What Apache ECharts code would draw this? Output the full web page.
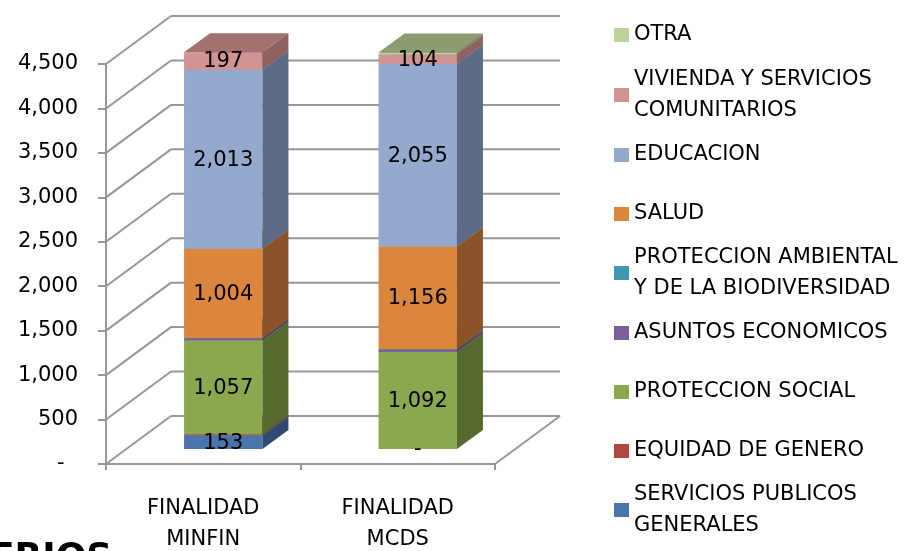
<!DOCTYPE html>
<html>
<head>
<meta charset="utf-8">
<script src="https://cdn.jsdelivr.net/npm/echarts@6/dist/echarts.min.js"></script>
<style>
  html, body { margin: 0; padding: 0; background: #fff; }
  #chart { width: 913px; height: 551px; }
</style>
</head>
<body>
<div id="chart"></div>
<script>
// categorias y valores (millones)
const categories = ['FINALIDAD\nMINFIN', 'FINALIDAD\nMCDS'];
const serviciosPublicos = [153, 0];
const equidadGenero = [10, 0];
const proteccionSocial = [1057, 1092];
const asuntosEconomicos = [25, 25];
const proteccionAmbiental = [5, 5];
const salud = [1004, 1156];
const educacion = [2013, 2055];
const vivienda = [197, 104];
const otra = [0, 25];
const yTicks = [0, 500, 1000, 1500, 2000, 2500, 3000, 3500, 4000, 4500];

const FONT = 'DejaVu Sans';
const FS = 21;
// profundidad de la pared (3D) y de las barras
const WALL_DX = 65, WALL_DY = -48;
const BAR_OX = 20, BAR_OY = -15;
const BAR_DX = 26, BAR_DY = -19;

// orden de apilado, de abajo hacia arriba
const stackDefs = [
  { name: 'SERVICIOS PUBLICOS\nGENERALES', data: serviciosPublicos, front: '#4a74ad', side: '#2f4a72', top: '#3a5c8c', label: true, legendY: 510 },
  { name: 'EQUIDAD DE GENERO', data: equidadGenero, front: '#b0483f', side: '#70302b', top: '#8e3a33', label: false, legendY: 451 },
  { name: 'PROTECCION SOCIAL', data: proteccionSocial, front: '#8ca84e', side: '#566a30', top: '#70883e', label: true, legendY: 392 },
  { name: 'ASUNTOS ECONOMICOS', data: asuntosEconomicos, front: '#7b5f9c', side: '#4e3c64', top: '#634c7e', label: false, legendY: 333 },
  { name: 'PROTECCION AMBIENTAL\nY DE LA BIODIVERSIDAD', data: proteccionAmbiental, front: '#3f98b0', side: '#286172', top: '#337b8e', label: false, legendY: 273 },
  { name: 'SALUD', data: salud, front: '#dc853d', side: '#8c5229', top: '#b36a31', label: true, legendY: 214 },
  { name: 'EDUCACION', data: educacion, front: '#94a9ce', side: '#5c6a86', top: '#7788a8', label: true, legendY: 155 },
  { name: 'VIVIENDA Y SERVICIOS\nCOMUNITARIOS', data: vivienda, front: '#d29493', side: '#8e6261', top: '#a27170', label: true, legendY: 95 },
  { name: 'OTRA', data: otra, front: '#bcd39a', side: '#7d8c64', top: '#8c9b70', label: false, legendY: 35 }
];

function fmt(v) {
  return v === 0 ? '-' : v.toLocaleString('en-US');
}

// acumulados para apilar
const bases = categories.map(() => 0);
const barSeries = stackDefs.map((def) => {
  const rows = def.data.map((v, i) => {
    const row = [i, bases[i], bases[i] + v, v];
    bases[i] += v;
    return row;
  });
  return {
    name: def.name,
    type: 'custom',
    clip: false,
    z: 3,
    itemStyle: { color: def.front },
    encode: { x: 0, y: [1, 2] },
    data: rows,
    renderItem(params, api) {
      const cat = api.value(0);
      const v = api.value(3);
      const p0 = api.coord([cat, api.value(1)]);
      const p1 = api.coord([cat, api.value(2)]);
      const bw = api.size([1, 0])[0] * 0.403;
      const x0 = p0[0] - bw / 2 + BAR_OX;
      const x1 = x0 + bw;
      const yb = p0[1] + BAR_OY;
      const yt = p1[1] + BAR_OY;
      const children = [];
      if (v > 0) {
        children.push({
          type: 'polygon',
          shape: { points: [[x0, yt], [x1, yt], [x1, yb], [x0, yb]] },
          style: { fill: def.front },
        });
        children.push({
          type: 'polygon',
          shape: { points: [[x1, yt], [x1 + BAR_DX, yt + BAR_DY], [x1 + BAR_DX, yb + BAR_DY], [x1, yb]] },
          style: { fill: def.side },
        });
        children.push({
          type: 'polygon',
          shape: { points: [[x0, yt], [x1, yt], [x1 + BAR_DX, yt + BAR_DY], [x0 + BAR_DX, yt + BAR_DY]] },
          style: { fill: def.top },
        });
      }
      if (def.label) {
        children.push({
          type: 'text',
          z2: 100,
          style: {
            text: fmt(v),
            x: (x0 + x1) / 2,
            y: (yb + yt) / 2 + 1,
            align: 'center',
            verticalAlign: 'middle',
            font: FS + 'px "' + FONT + '"',
            fill: '#000',
          },
        });
      }
      return { type: 'group', children };
    },
  };
});

// paredes 3D (lineas de rejilla)
const wallSeries = {
  type: 'custom',
  z: 1,
  silent: true,
  clip: false,
  encode: { x: 0, y: 1 },
  data: yTicks.map((t) => [0, t]),
  renderItem(params, api) {
    const cs = params.coordSys;
    const y = api.coord([0, api.value(1)])[1];
    const lineStyle = { stroke: '#979797', lineWidth: 2 };
    const children = [
      { type: 'line', shape: { x1: cs.x, y1: y, x2: cs.x + WALL_DX, y2: y + WALL_DY }, style: lineStyle },
      { type: 'line', shape: { x1: cs.x + WALL_DX, y1: y + WALL_DY, x2: cs.x + cs.width + WALL_DX, y2: y + WALL_DY }, style: lineStyle },
    ];
    if (api.value(1) === 0) {
      children.push({ type: 'line', shape: { x1: cs.x + cs.width, y1: y, x2: cs.x + cs.width + WALL_DX, y2: y + WALL_DY }, style: lineStyle });
      children.push({ type: 'line', shape: { x1: cs.x + cs.width, y1: y, x2: cs.x + cs.width, y2: y + 6 }, style: lineStyle });
    }
    return { type: 'group', children };
  },
};

// una leyenda por serie para poder ubicarlas
const legends = stackDefs.map((def) => {
  const twoLines = def.name.indexOf('\n') >= 0;
  return {
    data: [def.name],
    orient: 'vertical',
    left: 614,
    top: twoLines ? def.legendY - 46.5 : def.legendY - 15.5,
    padding: 0,
    itemWidth: 15,
    itemHeight: 14,
    icon: 'rect',
    selectedMode: false,
    textStyle: {
      fontFamily: FONT,
      fontSize: FS,
      color: '#000',
      lineHeight: 31,
      padding: twoLines ? [31, 0, 0, 0] : 0,
    },
  };
});

const chart = echarts.init(document.getElementById('chart'));
chart.setOption({
  animation: false,
  backgroundColor: '#fff',
  grid: { left: 106, right: 418, top: 64, bottom: 87, containLabel: false, outerBoundsMode: 'none' },
  legend: legends,
  xAxis: {
    type: 'category',
    data: categories,
    axisLine: { lineStyle: { color: '#979797', width: 2 } },
    axisTick: { show: true, length: 6, lineStyle: { color: '#979797', width: 2 } },
    axisLabel: {
      fontFamily: FONT,
      fontSize: FS,
      color: '#000',
      lineHeight: 31,
      margin: 29,
    },
  },
  yAxis: {
    type: 'value',
    min: 0,
    max: 4500,
    interval: 500,
    axisLine: { show: true, lineStyle: { color: '#979797', width: 2 } },
    axisTick: { show: true, length: 8, lineStyle: { color: '#979797', width: 2 } },
    splitLine: { show: false },
    axisLabel: {
      fontFamily: FONT,
      fontSize: FS,
      color: '#000',
      margin: 28,
      formatter: (v) => (v === 0 ? '-\u2007' : v.toLocaleString('en-US')),
    },
  },
  graphic: [{
    type: 'text',
    left: -10,
    top: 541,
    style: { text: 'ERIOS', font: 'bold 36px "' + FONT + '"', fill: '#000' },
  }],
  series: [wallSeries].concat(barSeries),
});
</script>
</body>
</html>
